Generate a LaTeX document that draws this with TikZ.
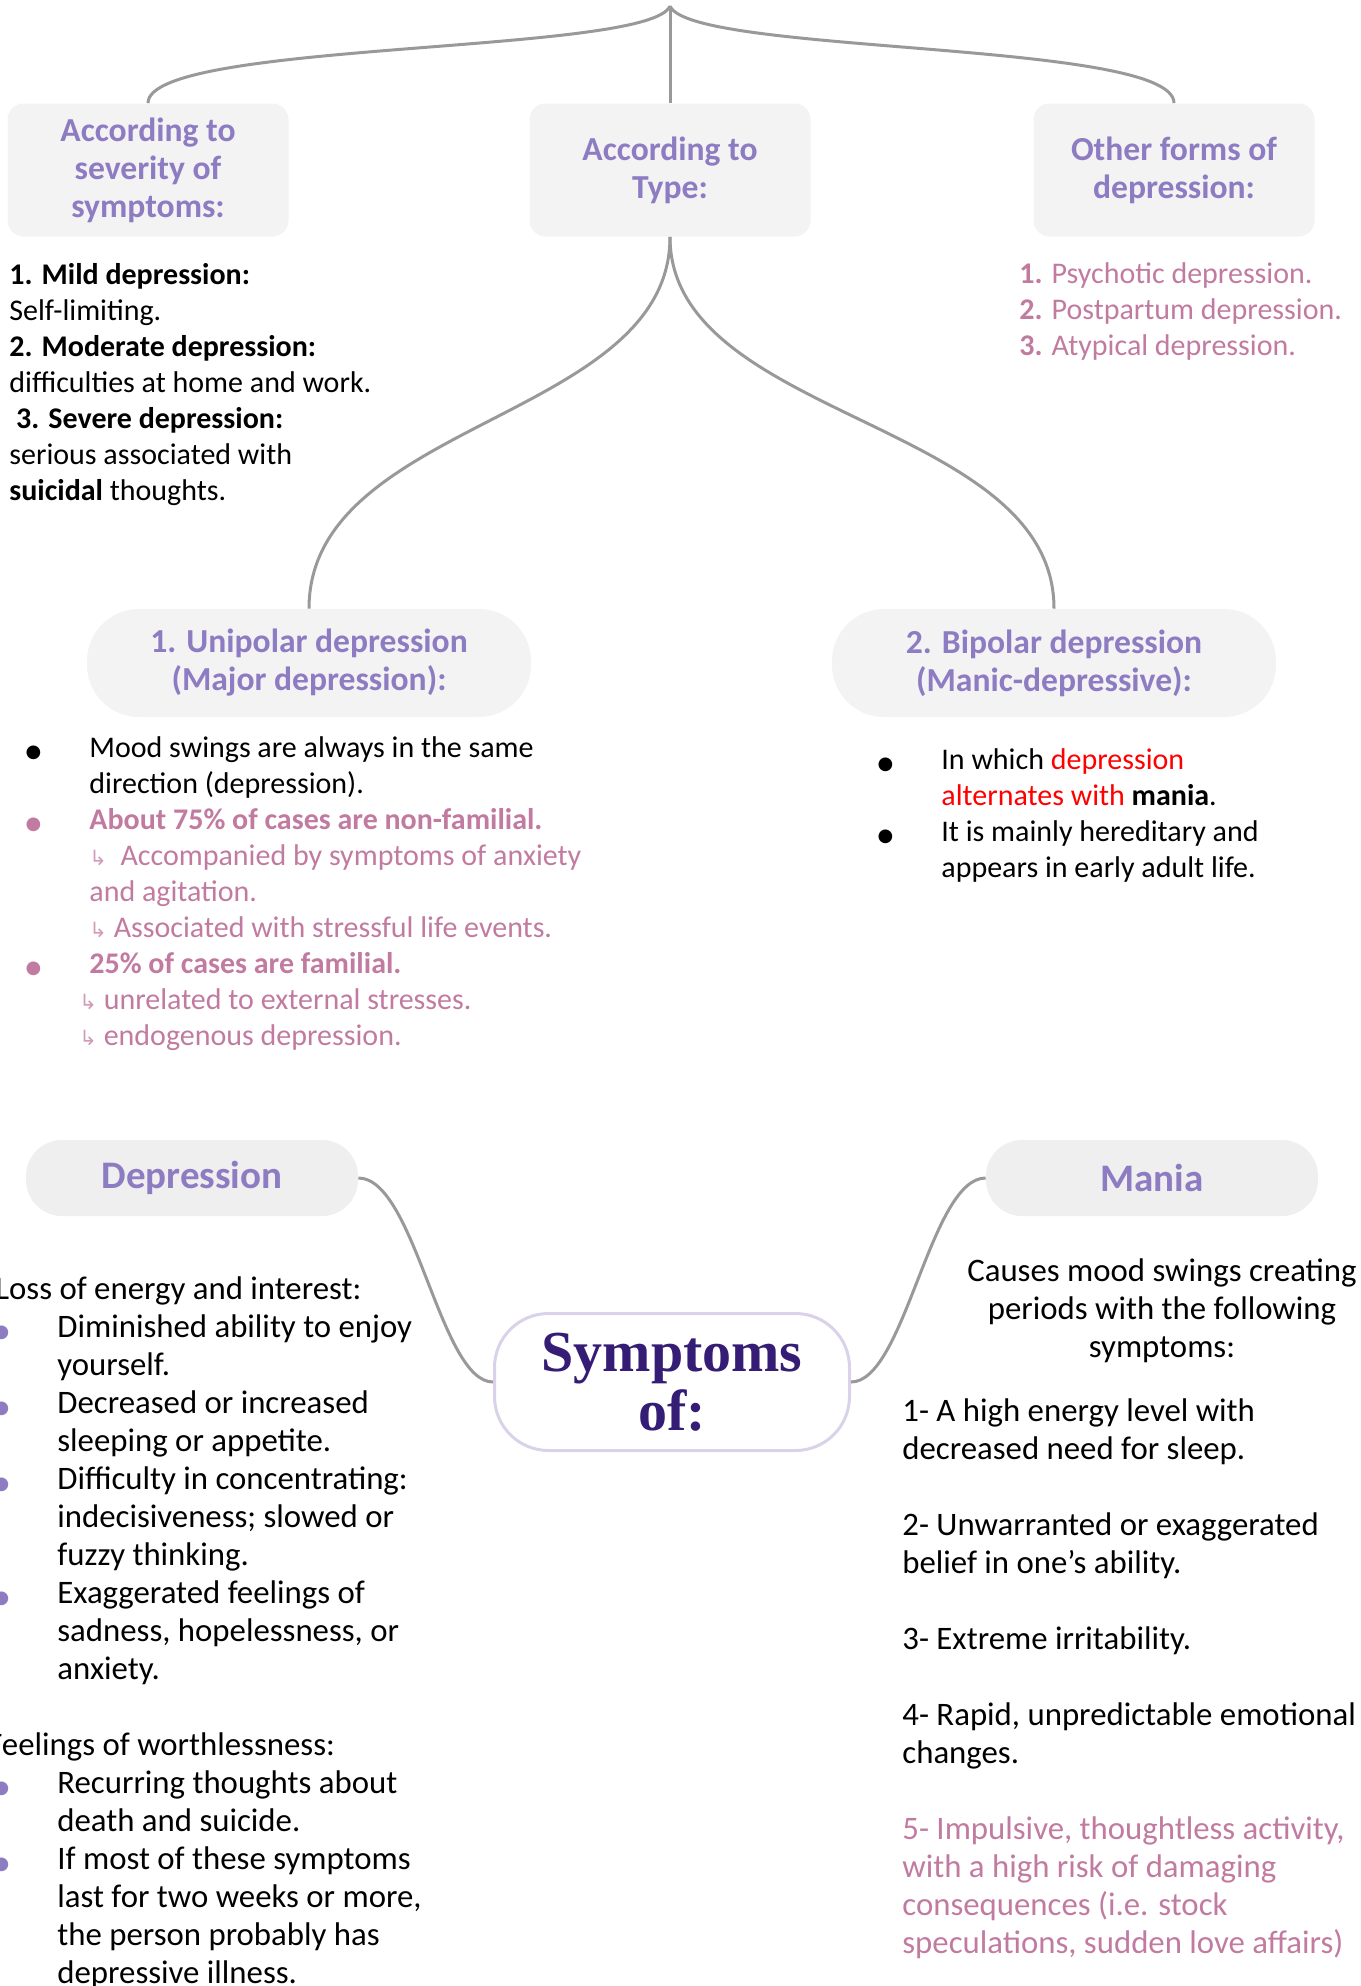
\documentclass[tikz,border=0pt]{standalone}
\usepackage{fontspec}
\setmainfont{Carlito}
\newfontfamily\headserif{Liberation Serif}
\newfontfamily\arrowfont{DejaVu Sans}
\usepackage{tikz}
\usetikzlibrary{positioning}
\definecolor{headpurple}{HTML}{8E7CC3}
\definecolor{pinktext}{HTML}{C27BA0}
\definecolor{deeppurple}{HTML}{351C75}
\definecolor{boxgrey}{HTML}{F3F3F3}
\definecolor{pillgrey}{HTML}{EFEFEF}
\definecolor{linkgrey}{HTML}{999999}
\definecolor{rimpurple}{HTML}{D9D2E9}
\newcommand{\dotitem}[1]{\llap{\textcolor{#1}{\arrowfont\fontsize{9}{9}\selectfont ●}\hspace{24pt}}}
\newcommand{\subarrow}{{\arrowfont\fontsize{10.5}{10.5}\selectfont\textcolor{pinktext!75}{↳}}}
\tikzset{
  topbox/.style={fill=boxgrey, rounded corners=8pt, minimum width=140.5pt, minimum height=66.5pt, align=center, font=\bfseries\fontsize{16.8}{19}\selectfont, text=headpurple},
  typepill/.style={fill=boxgrey, rounded corners=26pt, minimum width=222pt, minimum height=54pt, align=center, font=\bfseries\fontsize{16.8}{19}\selectfont, text=headpurple},
  sympill/.style={fill=pillgrey, rounded corners=18pt, minimum width=166pt, minimum height=38pt, font=\bfseries\fontsize{19.5}{22}\selectfont, text=headpurple},
  centrebox/.style={draw=rimpurple, line width=1.5pt, fill=white, rounded corners=27pt, minimum width=177.5pt, minimum height=68.5pt, align=center, font=\headserif\bfseries\fontsize{29}{29.5}\selectfont, text=deeppurple},
  listtext/.style={anchor=north west, inner sep=0pt, align=left},
  link/.style={draw=linkgrey, line width=1.5pt}
}
\begin{document}
\begin{tikzpicture}[x=0.5pt, y=-0.5pt, font=\fontsize{15}{18}\selectfont]
\useasboundingbox (0,0) rectangle (1360,1986);
\coordinate (root) at (670,6);
\node[topbox] (severity) at (148,170) {According to\\severity of\\symptoms:};
\node[topbox] (type) at (670,170) {According to\\Type:};
\node[topbox] (other) at (1174,170) {Other forms of\\depression:};
\draw[link] (root) .. controls (650,55) and (148,40) .. (severity.north);
\draw[link] (root) -- (type.north);
\draw[link] (root) .. controls (690,55) and (1174,40) .. (other.north);

\node[listtext] (severitylist) at (9,263) {\textbf{1. Mild depression:}\\
Self-limiting.\\
\textbf{2. Moderate depression:}\\
difficulties at home and work.\\
\textbf{\ 3. Severe depression:}\\
serious associated with\\
\textbf{suicidal} thoughts.};
\node[listtext, text=pinktext] (otherlist) at (1019,262) {\textbf{1.} Psychotic depression.\\
\textbf{2.} Postpartum depression.\\
\textbf{3.} Atypical depression.};

\node[typepill] (unipolar) at (309,663) {1. Unipolar depression\\(Major depression):};
\node[typepill] (bipolar) at (1054,663) {2. Bipolar depression\\(Manic-depressive):};
\draw[link] (type.south) .. controls (670,420) and (309,420) .. (unipolar.north);
\draw[link] (type.south) .. controls (670,420) and (1054,420) .. (bipolar.north);

\node[listtext] (unipolarlist) at (89,736) {\dotitem{black}Mood swings are always in the same\\
direction (depression).\\
\dotitem{pinktext}\textcolor{pinktext}{\textbf{About 75\% of cases are non-familial.}}\\
\textcolor{pinktext}{\subarrow\ \ Accompanied by symptoms of anxiety}\\
\textcolor{pinktext}{and agitation.}\\
\textcolor{pinktext}{\subarrow\ Associated with stressful life events.}\\
\dotitem{pinktext}\textcolor{pinktext}{\textbf{25\% of cases are familial.}}\\
\hspace*{-5pt}\textcolor{pinktext}{\subarrow\ unrelated to external stresses.}\\
\hspace*{-5pt}\textcolor{pinktext}{\subarrow\ endogenous depression.}};
\node[listtext] (bipolarlist) at (941,748) {\dotitem{black}In which \textcolor{red}{depression}\\
\textcolor{red}{alternates with} \textbf{mania}.\\
\dotitem{black}It is mainly hereditary and\\
appears in early adult life.};

\node[centrebox] (symptoms) at (672,1382) {Symptoms\\of:};
\node[sympill] (depression) at (192,1178) {Depression};
\node[sympill] (mania) at (1152,1178) {Mania};
\draw[link] (depression.east) .. controls (415,1178) and (440,1382) .. (symptoms.west);
\draw[link] (symptoms.east) .. controls (905,1382) and (930,1178) .. (mania.west);

\node[listtext, font=\fontsize{16.4}{19}\selectfont] (depressionlist) at (57,1276) {\hspace*{-31pt}Loss of energy and interest:\\
\dotitem{headpurple}Diminished ability to enjoy\\
yourself.\\
\dotitem{headpurple}Decreased or increased\\
sleeping or appetite.\\
\dotitem{headpurple}Difficulty in concentrating:\\
indecisiveness; slowed or\\
fuzzy thinking.\\
\dotitem{headpurple}Exaggerated feelings of\\
sadness, hopelessness, or\\
anxiety.\\[19pt]
\hspace*{-35pt}Feelings of worthlessness:\\
\dotitem{headpurple}Recurring thoughts about\\
death and suicide.\\
\dotitem{headpurple}If most of these symptoms\\
last for two weeks or more,\\
the person probably has\\
depressive illness.};
\node[anchor=north, inner sep=0pt, align=center, font=\fontsize{16.4}{19}\selectfont] (maniaintro) at (1162,1258) {Causes mood swings creating\\periods with the following\\symptoms:};
\node[listtext, font=\fontsize{16.4}{19}\selectfont] (manialist) at (902,1398) {1- A high energy level with\\
decreased need for sleep.\\[19pt]
2- Unwarranted or exaggerated\\
belief in one’s ability.\\[19pt]
3- Extreme irritability.\\[19pt]
4- Rapid, unpredictable emotional\\
changes.\\[19pt]
\textcolor{pinktext}{5- Impulsive, thoughtless activity,}\\
\textcolor{pinktext}{with a high risk of damaging}\\
\textcolor{pinktext}{consequences (i.e. stock}\\
\textcolor{pinktext}{speculations, sudden love affairs)}};
\end{tikzpicture}
\end{document}
